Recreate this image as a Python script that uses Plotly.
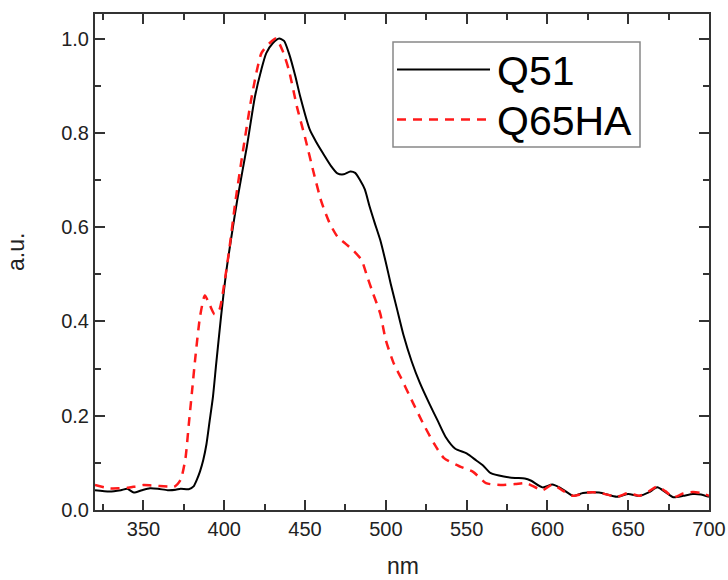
import plotly.graph_objects as go

# ---- data ----
q51_x = [320, 329, 336, 340, 344, 349, 354, 359, 365, 370, 373, 378, 381, 383, 385, 387, 389, 391, 393, 395,
         398, 401, 404, 408, 414, 419, 423, 426, 430, 434, 437, 440, 444, 447, 453, 457, 461, 466, 470, 474,
         478, 481, 484, 487, 490, 493, 496.5, 500, 503, 507, 511, 516, 521, 527, 532, 537, 543, 550, 556,
         560, 565, 573, 580, 586, 590, 597, 603, 608, 616, 622, 632, 643, 650, 657, 663, 668, 673, 678, 684,
         690, 695, 700]
q51_y = [0.042, 0.039, 0.042, 0.045, 0.037, 0.042, 0.046, 0.045, 0.042, 0.043, 0.045, 0.044, 0.05, 0.064,
         0.082, 0.106, 0.14, 0.19, 0.24, 0.31, 0.41, 0.5, 0.57, 0.657, 0.771, 0.877, 0.935, 0.969, 0.99,
         1.0, 0.995, 0.969, 0.92, 0.877, 0.806, 0.78, 0.757, 0.73, 0.714, 0.712, 0.718, 0.715, 0.70, 0.68,
         0.643, 0.61, 0.573, 0.525, 0.48, 0.425, 0.37, 0.315, 0.27, 0.225, 0.19, 0.155, 0.13, 0.12, 0.105,
         0.095, 0.078, 0.071, 0.068, 0.067, 0.062, 0.048, 0.054, 0.047, 0.03, 0.036, 0.037, 0.028, 0.034,
         0.03, 0.038, 0.048, 0.038, 0.027, 0.03, 0.034, 0.033, 0.028]

q65ha_x = [320, 329, 335, 340, 345, 350, 355, 360, 365, 369, 373, 376, 378, 380, 382, 385, 388, 391, 394,
           397, 400, 403, 407, 412, 417, 423, 428, 432, 436, 440, 445, 450, 455, 460, 465, 470, 475, 480,
           485, 488, 492, 496.5, 500, 505, 509, 515, 523, 530, 536, 546, 554, 562, 571, 580, 587, 597, 603,
           610, 616, 625, 632, 643, 650, 657, 663, 668, 673, 678, 684, 690, 695, 700]
q65ha_y = [0.053, 0.046, 0.046, 0.047, 0.05, 0.053, 0.052, 0.051, 0.05, 0.049, 0.064, 0.11, 0.18, 0.25,
           0.32, 0.41, 0.455, 0.435, 0.415, 0.425, 0.48, 0.55, 0.657, 0.771, 0.877, 0.969, 0.99, 1.0, 0.975,
           0.933, 0.855, 0.79, 0.72, 0.655, 0.61, 0.58, 0.565, 0.55, 0.53, 0.50, 0.46, 0.417, 0.36, 0.31,
           0.283, 0.24, 0.184, 0.14, 0.11, 0.092, 0.081, 0.057, 0.053, 0.055, 0.057, 0.042, 0.054, 0.04,
           0.03, 0.037, 0.037, 0.028, 0.036, 0.03, 0.04, 0.05, 0.04, 0.027, 0.035, 0.038, 0.036, 0.03]

series_names = ["Q51", "Q65HA"]
x_title = "nm"
y_title = "a.u."
x_ticks = [350, 400, 450, 500, 550, 600, 650, 700]
y_ticks = [0.0, 0.2, 0.4, 0.6, 0.8, 1.0]

FONT = "Liberation Sans, Arial, sans-serif"
AX = "#333333"

fig = go.Figure()
fig.add_trace(go.Scatter(x=q51_x, y=q51_y, mode="lines", name=series_names[0],
                         line=dict(color="black", width=2, shape="spline", smoothing=0.6)))
fig.add_trace(go.Scatter(x=q65ha_x, y=q65ha_y, mode="lines", name=series_names[1],
                         line=dict(color="#ff1a1a", width=2.5, dash="9px,7px", shape="spline", smoothing=0.6)))

axis_common = dict(
    showline=True, linecolor=AX, linewidth=2, mirror="ticks",
    ticks="inside", ticklen=10, tickwidth=2, tickcolor=AX,
    showgrid=False, zeroline=False, automargin=False,
    tickfont=dict(family=FONT, size=20, color="#222"),
)

fig.update_xaxes(range=[320, 700], tickvals=x_ticks, ticktext=[str(v) for v in x_ticks],
                 minor=dict(dtick=25, ticks="inside", ticklen=6, tickwidth=2, tickcolor=AX, tick0=325),
                 **axis_common)
fig.update_yaxes(range=[0, 1.052], tickvals=y_ticks, ticktext=["%.1f" % v for v in y_ticks],
                 minor=dict(dtick=0.1, ticks="inside", ticklen=6, tickwidth=2, tickcolor=AX, tick0=0),
                 **axis_common)

# plot-area geometry (figure pixels) used to place the legend box and axis titles
L, R, T, B = 95, 19, 14, 70
W, H = 728, 580
PW, PH = W - L - R, H - T - B


def px_x(p):
    return (p - L) / PW


def px_y(p):
    return (H - B - p) / PH


shapes = [
    dict(type="rect", xref="paper", yref="paper", x0=px_x(393), x1=px_x(640), y0=px_y(147), y1=px_y(42),
         line=dict(color="#888", width=1.5), fillcolor="white", layer="above"),
    dict(type="line", xref="paper", yref="paper", x0=px_x(397), x1=px_x(490), y0=px_y(69.5), y1=px_y(69.5),
         line=dict(color="black", width=2), layer="above"),
    dict(type="line", xref="paper", yref="paper", x0=px_x(397), x1=px_x(490), y0=px_y(119.5), y1=px_y(119.5),
         line=dict(color="#ff1a1a", width=2.5, dash="9px,7px"), layer="above"),
]
annotations = [
    dict(text=series_names[0], xref="paper", yref="paper", x=px_x(495), y=px_y(71), xanchor="left",
         yanchor="middle", showarrow=False, font=dict(family=FONT, size=41, color="black")),
    dict(text=series_names[1], xref="paper", yref="paper", x=px_x(495), y=px_y(121), xanchor="left",
         yanchor="middle", showarrow=False, font=dict(family=FONT, size=41, color="black")),
    dict(text=x_title, xref="paper", yref="paper", x=px_x(403), y=px_y(566), xanchor="center",
         yanchor="middle", showarrow=False, font=dict(family=FONT, size=23, color="#222")),
    dict(text=y_title, xref="paper", yref="paper", x=px_x(16), y=px_y(252), xanchor="center",
         yanchor="middle", textangle=-90, showarrow=False, font=dict(family=FONT, size=23, color="#222")),
]

fig.update_layout(
    width=W, height=H,
    margin=dict(l=L, r=R, t=T, b=B),
    paper_bgcolor="white", plot_bgcolor="white",
    showlegend=False,
    shapes=shapes, annotations=annotations,
    font=dict(family=FONT),
)

fig.write_html("out.html", config={"displayModeBar": False},
               post_script="document.body.style.margin='0';")
